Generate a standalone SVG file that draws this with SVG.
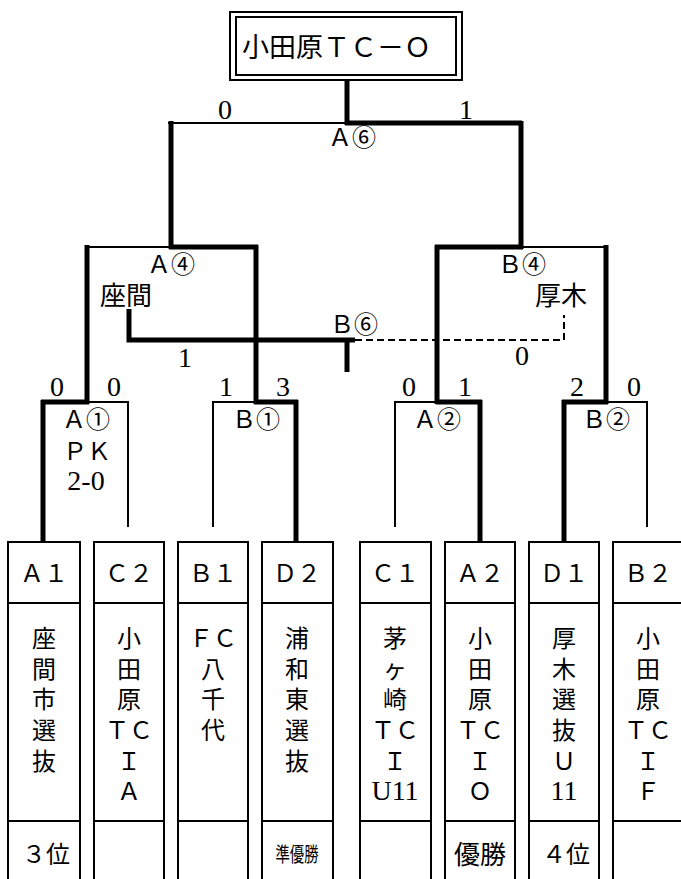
<svg xmlns="http://www.w3.org/2000/svg" width="681" height="879" viewBox="0 0 681 879">
<style>
.t{font-family:"Liberation Serif","Noto Sans CJK JP",serif;fill:#000}
.s24{font-size:24px}
.s26{font-size:26px}
.s28{font-size:28px}
.m{text-anchor:middle}
.box{fill:#fff;stroke:#000;stroke-width:2}
.thin{stroke:#000;stroke-width:2;fill:none}
.thick{stroke:#000;stroke-width:5;fill:none}
.dash{stroke:#000;stroke-width:2;fill:none;stroke-dasharray:7 4}
</style>
<rect width="681" height="879" fill="#fff"/>

<g id="champion">
<rect x="230" y="12" width="232" height="68" class="box"/>
<rect x="236" y="17" width="220" height="58" class="box"/>
<text x="242" y="57" class="t" font-size="27">小田原ＴＣ－Ｏ</text>
</g>

<g id="connectors">
<!-- final -->
<line x1="347" y1="80" x2="347" y2="125" class="thick"/>
<line x1="168" y1="123" x2="347" y2="123" class="thin"/>
<line x1="345" y1="123" x2="522" y2="123" class="thick"/>
<line x1="171" y1="121" x2="171" y2="249" class="thick"/>
<line x1="521" y1="121" x2="521" y2="249" class="thick"/>
<!-- A4 -->
<line x1="86" y1="247" x2="171" y2="247" class="thin"/>
<line x1="169" y1="247" x2="258" y2="247" class="thick"/>
<line x1="87" y1="245" x2="87" y2="404" class="thick"/>
<line x1="256" y1="245" x2="256" y2="404" class="thick"/>
<!-- B4 -->
<line x1="435" y1="247" x2="523" y2="247" class="thick"/>
<line x1="521" y1="247" x2="608" y2="247" class="thin"/>
<line x1="437" y1="245" x2="437" y2="404" class="thick"/>
<line x1="606" y1="245" x2="606" y2="404" class="thick"/>
<!-- 3rd place -->
<polyline points="129,309 129,340 355,340" class="thick"/>
<line x1="347" y1="340" x2="347" y2="372" class="thick"/>
<polyline points="355,340 564,340 564,315" class="dash"/>
<!-- A1 -->
<line x1="41" y1="402" x2="89" y2="402" class="thick"/>
<line x1="87" y1="402" x2="129" y2="402" class="thin"/>
<line x1="43" y1="400" x2="43" y2="542" class="thick"/>
<line x1="128" y1="401" x2="128" y2="527" class="thin"/>
<!-- B1 -->
<line x1="212" y1="402" x2="256" y2="402" class="thin"/>
<line x1="254" y1="402" x2="298" y2="402" class="thick"/>
<line x1="213" y1="401" x2="213" y2="527" class="thin"/>
<line x1="296" y1="400" x2="296" y2="542" class="thick"/>
<!-- A2 -->
<line x1="394" y1="402" x2="438" y2="402" class="thin"/>
<line x1="436" y1="402" x2="482" y2="402" class="thick"/>
<line x1="395" y1="401" x2="395" y2="527" class="thin"/>
<line x1="480" y1="400" x2="480" y2="542" class="thick"/>
<!-- B2 -->
<line x1="562" y1="402" x2="608" y2="402" class="thick"/>
<line x1="606" y1="402" x2="648" y2="402" class="thin"/>
<line x1="564" y1="400" x2="564" y2="542" class="thick"/>
<line x1="647" y1="401" x2="647" y2="527" class="thin"/>
</g>

<g id="labels" class="t">
<text x="225" y="119" class="s28 m">0</text>
<text x="466" y="119" class="s28 m">1</text>
<text x="328" y="146" class="s24">Ａ⑥</text>
<text x="147" y="273" class="s24">Ａ④</text>
<text x="100" y="305" class="s26">座間</text>
<text x="185" y="367" class="s28 m">1</text>
<text x="330" y="333" class="s24">Ｂ⑥</text>
<text x="498" y="273" class="s24">Ｂ④</text>
<text x="535" y="305" class="s26">厚木</text>
<text x="522" y="365" class="s28 m">0</text>
<text x="57" y="396" class="s28 m">0</text>
<text x="114" y="396" class="s28 m">0</text>
<text x="226" y="396" class="s28 m">1</text>
<text x="283" y="396" class="s28 m">3</text>
<text x="409" y="396" class="s28 m">0</text>
<text x="465" y="396" class="s28 m">1</text>
<text x="577" y="396" class="s28 m">2</text>
<text x="634" y="396" class="s28 m">0</text>
<text x="62" y="428" class="s24">Ａ①</text>
<text x="63" y="460" class="s24">ＰＫ</text>
<text x="86" y="490" class="s28 m">2-0</text>
<text x="232" y="428" class="s24">Ｂ①</text>
<text x="413" y="428" class="s24">Ａ②</text>
<text x="582" y="428" class="s24">Ｂ②</text>
</g>

<g id="team-A1">
<rect x="8" y="542" width="72" height="350" class="box"/>
<line x1="8" y1="603" x2="80" y2="603" class="thin"/>
<line x1="8" y1="821" x2="80" y2="821" class="thin"/>
<text class="t s24 m" x="44" y="582">Ａ１</text>
<text class="t s24 m"><tspan x="44" y="647">座</tspan><tspan x="44" y="678">間</tspan><tspan x="44" y="708">市</tspan><tspan x="44" y="739">選</tspan><tspan x="44" y="770">抜</tspan></text>
<text class="t s24 m" x="46" y="863">３位</text>
</g>
<g id="team-C2">
<rect x="94" y="542" width="70" height="350" class="box"/>
<line x1="94" y1="603" x2="164" y2="603" class="thin"/>
<line x1="94" y1="821" x2="164" y2="821" class="thin"/>
<text class="t s24 m" x="129" y="582">Ｃ２</text>
<text class="t s24 m"><tspan x="129" y="647">小</tspan><tspan x="129" y="678">田</tspan><tspan x="129" y="708">原</tspan><tspan x="129" y="739">ＴＣ</tspan><tspan x="129" y="770">Ｉ</tspan><tspan x="129" y="800">Ａ</tspan></text>
</g>
<g id="team-B1">
<rect x="178" y="542" width="70" height="350" class="box"/>
<line x1="178" y1="603" x2="248" y2="603" class="thin"/>
<line x1="178" y1="821" x2="248" y2="821" class="thin"/>
<text class="t s24 m" x="213" y="582">Ｂ１</text>
<text class="t s24 m"><tspan x="213" y="647">ＦＣ</tspan><tspan x="213" y="678">八</tspan><tspan x="213" y="708">千</tspan><tspan x="213" y="739">代</tspan></text>
</g>
<g id="team-D2">
<rect x="262" y="542" width="71" height="350" class="box"/>
<line x1="262" y1="603" x2="333" y2="603" class="thin"/>
<line x1="262" y1="821" x2="333" y2="821" class="thin"/>
<text class="t s24 m" x="297" y="582">Ｄ２</text>
<text class="t s24 m"><tspan x="297" y="647">浦</tspan><tspan x="297" y="678">和</tspan><tspan x="297" y="708">東</tspan><tspan x="297" y="739">選</tspan><tspan x="297" y="770">抜</tspan></text>
<text class="t m" font-size="20" x="297" y="862" textLength="43" lengthAdjust="spacingAndGlyphs">準優勝</text>
</g>
<g id="team-C1">
<rect x="360" y="542" width="71" height="350" class="box"/>
<line x1="360" y1="603" x2="431" y2="603" class="thin"/>
<line x1="360" y1="821" x2="431" y2="821" class="thin"/>
<text class="t s24 m" x="395" y="582">Ｃ１</text>
<text class="t s24 m"><tspan x="395" y="647">茅</tspan><tspan x="395" y="678">ヶ</tspan><tspan x="395" y="708">崎</tspan><tspan x="395" y="739">ＴＣ</tspan><tspan x="395" y="770">Ｉ</tspan><tspan x="395" y="800" class="s28">U11</tspan></text>
</g>
<g id="team-A2">
<rect x="445" y="542" width="70" height="350" class="box"/>
<line x1="445" y1="603" x2="515" y2="603" class="thin"/>
<line x1="445" y1="821" x2="515" y2="821" class="thin"/>
<text class="t s24 m" x="480" y="582">Ａ２</text>
<text class="t s24 m"><tspan x="480" y="647">小</tspan><tspan x="480" y="678">田</tspan><tspan x="480" y="708">原</tspan><tspan x="480" y="739">ＴＣ</tspan><tspan x="480" y="770">Ｉ</tspan><tspan x="480" y="800">Ｏ</tspan></text>
<text class="t s26 m" x="480" y="864">優勝</text>
</g>
<g id="team-D1">
<rect x="529" y="542" width="70" height="350" class="box"/>
<line x1="529" y1="603" x2="599" y2="603" class="thin"/>
<line x1="529" y1="821" x2="599" y2="821" class="thin"/>
<text class="t s24 m" x="564" y="582">Ｄ１</text>
<text class="t s24 m"><tspan x="564" y="647">厚</tspan><tspan x="564" y="678">木</tspan><tspan x="564" y="708">選</tspan><tspan x="564" y="739">抜</tspan><tspan x="564" y="770">Ｕ</tspan><tspan x="564" y="800" class="s28">11</tspan></text>
<text class="t s24 m" x="566" y="863">４位</text>
</g>
<g id="team-B2">
<rect x="613" y="542" width="71" height="350" class="box"/>
<line x1="613" y1="603" x2="684" y2="603" class="thin"/>
<line x1="613" y1="821" x2="684" y2="821" class="thin"/>
<text class="t s24 m" x="648" y="582">Ｂ２</text>
<text class="t s24 m"><tspan x="648" y="647">小</tspan><tspan x="648" y="678">田</tspan><tspan x="648" y="708">原</tspan><tspan x="648" y="739">ＴＣ</tspan><tspan x="648" y="770">Ｉ</tspan><tspan x="648" y="800">Ｆ</tspan></text>
</g>
</svg>
